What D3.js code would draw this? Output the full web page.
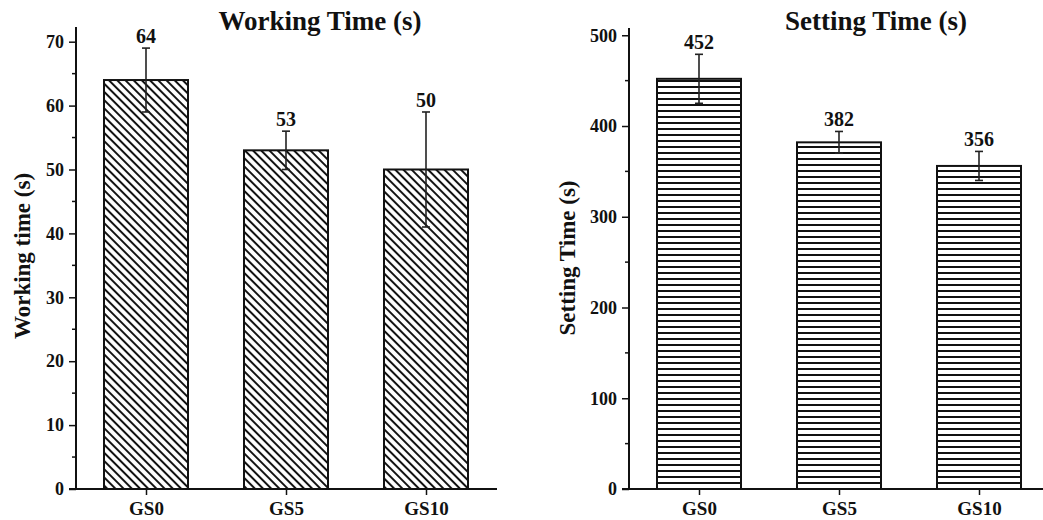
<!DOCTYPE html>
<html>
<head>
<meta charset="utf-8">
<script src="https://cdn.jsdelivr.net/npm/d3@7"></script>
<style>
  body { margin: 0; background: #fff; }
  text { font-family: "Liberation Serif", "Times New Roman", serif; font-weight: bold; fill: #111; }
</style>
</head>
<body>
<svg id="chart" width="1043" height="520"></svg>
<script>
const categories = ["GS0", "GS5", "GS10"];
const workingTime = [64, 53, 50];
const workingErr = [5, 3, 9];
const settingTime = [452, 382, 356];
const settingErr = [27, 12, 16];
const workingTicks = [0, 10, 20, 30, 40, 50, 60, 70];
const workingMinor = [5, 15, 25, 35, 45, 55, 65];
const settingTicks = [0, 100, 200, 300, 400, 500];
const settingMinor = [50, 150, 250, 350, 450];

const svg = d3.select("#chart");
const defs = svg.append("defs");

// diagonal hatch for working time
const diag = defs.append("pattern")
    .attr("id", "diag")
    .attr("patternUnits", "userSpaceOnUse")
    .attr("width", 5.8).attr("height", 5.8)
    .attr("patternTransform", "rotate(45)");
diag.append("rect").attr("width", 5.8).attr("height", 5.8).attr("fill", "#fff");
diag.append("line")
    .attr("x1", 0).attr("y1", 2.9).attr("x2", 5.8).attr("y2", 2.9)
    .attr("stroke", "#111").attr("stroke-width", 2);

// horizontal hatch for setting time
const horiz = defs.append("pattern")
    .attr("id", "horiz")
    .attr("patternUnits", "userSpaceOnUse")
    .attr("width", 10).attr("height", 6);
horiz.append("rect").attr("width", 10).attr("height", 6).attr("fill", "#fff");
horiz.append("rect")
    .attr("x", 0).attr("y", 2).attr("width", 10).attr("height", 2)
    .attr("fill", "#111");

function drawPanel(opt) {
    const g = svg.append("g");
    const x = d3.scalePoint().domain(categories).range([opt.x0, opt.x0 + 420]).padding(0.5);
    const y = d3.scaleLinear().domain([0, opt.yMax]).range([489, opt.yTop]);
    const barW = 84;

    // bars
    g.selectAll(".bar")
        .data(opt.values)
        .join("rect")
        .attr("class", "bar")
        .attr("x", (d, i) => x(categories[i]) - barW / 2)
        .attr("y", d => y(d))
        .attr("width", barW)
        .attr("height", d => y(0) - y(d))
        .attr("fill", `url(#${opt.pattern})`)
        .attr("stroke", "#111")
        .attr("stroke-width", 2);

    // error bars
    const err = g.selectAll(".err")
        .data(opt.values)
        .join("g")
        .attr("class", "err")
        .attr("stroke", "#222")
        .attr("stroke-width", 1.6);
    err.append("line")
        .attr("x1", (d, i) => x(categories[i])).attr("x2", (d, i) => x(categories[i]))
        .attr("y1", (d, i) => y(d - opt.errs[i])).attr("y2", (d, i) => y(d + opt.errs[i]));
    err.append("line")
        .attr("x1", (d, i) => x(categories[i]) - 4).attr("x2", (d, i) => x(categories[i]) + 4)
        .attr("y1", (d, i) => y(d + opt.errs[i])).attr("y2", (d, i) => y(d + opt.errs[i]));
    err.append("line")
        .attr("x1", (d, i) => x(categories[i]) - 4).attr("x2", (d, i) => x(categories[i]) + 4)
        .attr("y1", (d, i) => y(d - opt.errs[i])).attr("y2", (d, i) => y(d - opt.errs[i]));

    // value labels
    g.selectAll(".val")
        .data(opt.values)
        .join("text")
        .attr("class", "val")
        .attr("x", (d, i) => x(categories[i]))
        .attr("y", (d, i) => y(d + opt.errs[i]) - 5)
        .attr("text-anchor", "middle")
        .style("font-size", "20px")
        .text(d => d);

    // y axis
    const yAxis = g.append("g")
        .attr("transform", `translate(${opt.x0},0)`)
        .call(d3.axisLeft(y).tickValues(opt.ticks).tickSize(7).tickPadding(5));
    yAxis.select(".domain").attr("d", `M0,${opt.yTop}V489`).attr("stroke", "#111").attr("stroke-width", 2);
    yAxis.selectAll(".tick line").attr("stroke", "#111").attr("stroke-width", 1.5);
    yAxis.selectAll("text").style("font-size", "18px").attr("font-family", null);
    yAxis.selectAll(".minor")
        .data(opt.minor)
        .join("line")
        .attr("class", "minor")
        .attr("x1", -4).attr("x2", 0)
        .attr("y1", d => y(d)).attr("y2", d => y(d))
        .attr("stroke", "#111").attr("stroke-width", 1.5);

    // x axis
    const xAxis = g.append("g")
        .attr("transform", "translate(0,489)")
        .call(d3.axisBottom(x).tickSize(6).tickPadding(7));
    xAxis.select(".domain").attr("d", `M${opt.x0 - 7},0H${opt.xEnd}`).attr("stroke", "#111").attr("stroke-width", 2);
    xAxis.selectAll(".tick line").attr("stroke", "#111").attr("stroke-width", 1.5);
    xAxis.selectAll("text").style("font-size", "19px").attr("font-family", null);

    // title
    g.append("text")
        .attr("x", opt.titleX).attr("y", 30)
        .attr("text-anchor", "middle")
        .style("font-size", "27px")
        .text(opt.title);

    // y label
    g.append("text")
        .attr("transform", `translate(${opt.labelX},${opt.labelY}) rotate(-90)`)
        .attr("text-anchor", "middle")
        .style("font-size", "23px")
        .text(opt.yLabel);
}

drawPanel({
    values: workingTime, errs: workingErr, ticks: workingTicks, minor: workingMinor,
    x0: 76, xEnd: 497, yMax: 72.3, yTop: 27, pattern: "diag",
    title: "Working Time (s)", titleX: 320, yLabel: "Working time (s)", labelX: 30, labelY: 256
});

drawPanel({
    values: settingTime, errs: settingErr, ticks: settingTicks, minor: settingMinor,
    x0: 629, xEnd: 1043, yMax: 508, yTop: 28, pattern: "horiz",
    title: "Setting Time (s)", titleX: 876, yLabel: "Setting Time (s)", labelX: 575, labelY: 258
});
</script>
</body>
</html>
